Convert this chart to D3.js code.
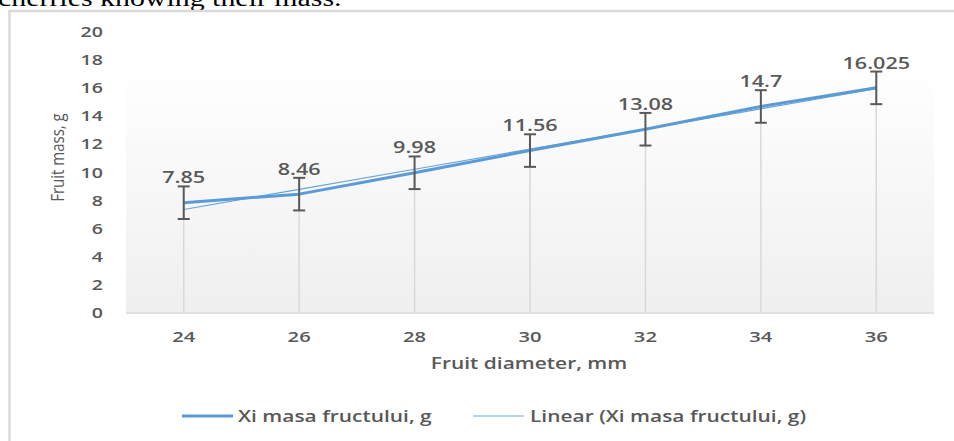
<!DOCTYPE html>
<html>
<head>
<meta charset="utf-8">
<script src="https://cdn.jsdelivr.net/npm/d3@7"></script>
<style>
  body { margin: 0; background: #fff; }
  svg { display: block; }
  text { font-family: "Open Sans", sans-serif; fill: #595959; }
</style>
</head>
<body>
<svg></svg>
<script>
// diametre (mm) si masa fructului (g)
let diameters = ['24', '26', '28', '30', '32', '34', '36'];
let masses = [7.85, 8.46, 9.98, 11.56, 13.08, 14.7, 16.025];
let errors = [1.16, 1.16, 1.16, 1.16, 1.16, 1.16, 1.16];
let yTicks = [0, 2, 4, 6, 8, 10, 12, 14, 16, 18, 20];

let width = 954;
let height = 441;

// textul din chenar apare intins pe orizontala
let stretch = 1.35;

let plot = { left: 126, right: 934, top: 32, bottom: 313 };

let svg = d3.select('svg')
    .attr('width', width)
    .attr('height', height);

// rand de text din document, taiat sus
svg.append('text')
    .attr('transform', 'translate(-2,6) scale(1.3,1)')
    .style('font-family', '"Liberation Serif", serif')
    .style('font-size', '23px')
    .style('fill', '#000')
    .text('cherries knowing their mass.');

// chenarul graficului
svg.append('rect')
    .attr('x', 9.5)
    .attr('y', 11)
    .attr('width', 960)
    .attr('height', 450)
    .attr('fill', 'none')
    .attr('stroke', '#d9d9d9')
    .attr('stroke-width', 2.5);

let x = d3.scalePoint()
    .domain(diameters)
    .range([plot.left, plot.right])
    .padding(0.5);

let y = d3.scaleLinear()
    .domain([0, 20])
    .range([plot.bottom, plot.top]);

// fundal cu gradient
let grad = svg.append('defs').append('linearGradient')
    .attr('id', 'bg')
    .attr('x1', 0).attr('y1', 0)
    .attr('x2', 0).attr('y2', 1);
grad.append('stop').attr('offset', '0%').attr('stop-color', '#ffffff');
grad.append('stop').attr('offset', '100%').attr('stop-color', '#efefef');

svg.append('rect')
    .attr('x', plot.left)
    .attr('y', 65)
    .attr('width', plot.right - plot.left)
    .attr('height', plot.bottom - 65)
    .attr('fill', 'url(#bg)');

// axa y (doar etichete)
svg.append('g')
    .selectAll('text')
    .data(yTicks)
    .enter()
    .append('text')
    .attr('transform', d => 'translate(103,' + (y(d) + 5) + ') scale(' + stretch + ',1)')
    .attr('text-anchor', 'end')
    .style('font-size', '14.5px')
    .style('font-weight', 600)
    .text(d => d);

// linii verticale de la punct la axa
svg.append('g')
    .selectAll('line')
    .data(masses)
    .enter()
    .append('line')
    .attr('x1', (d, i) => x(diameters[i]))
    .attr('x2', (d, i) => x(diameters[i]))
    .attr('y1', d => y(d))
    .attr('y2', y(0))
    .attr('stroke', '#d9d9d9')
    .attr('stroke-width', 1.5);

// axa x
svg.append('line')
    .attr('x1', plot.left)
    .attr('x2', plot.right)
    .attr('y1', y(0))
    .attr('y2', y(0))
    .attr('stroke', '#d9d9d9')
    .attr('stroke-width', 1.5);

svg.append('g')
    .selectAll('text')
    .data(diameters)
    .enter()
    .append('text')
    .attr('transform', d => 'translate(' + x(d) + ',342) scale(' + stretch + ',1)')
    .attr('text-anchor', 'middle')
    .style('font-size', '15px')
    .style('font-weight', 600)
    .text(d => d);

// titluri axe
svg.append('text')
    .attr('transform', 'translate(529,369) scale(' + stretch + ',1)')
    .attr('text-anchor', 'middle')
    .style('font-size', '15.5px')
    .style('font-weight', 600)
    .text('Fruit diameter, mm');

svg.append('text')
    .attr('transform', 'translate(64,157.5) rotate(-90) scale(1,1.15)')
    .attr('text-anchor', 'middle')
    .style('font-size', '15px')
    .text('Fruit mass, g');

// linia de tendinta (regresie liniara pe indexul categoriei, ca in Excel)
let idx = masses.map((d, i) => i + 1);
let mx = d3.mean(idx);
let my = d3.mean(masses);
let slope = d3.sum(idx, (v, i) => (v - mx) * (masses[i] - my)) / d3.sum(idx, v => (v - mx) * (v - mx));
let icpt = my - slope * mx;
let trend = idx.map(v => icpt + slope * v);

let line = d3.line()
    .x((d, i) => x(diameters[i]))
    .y(d => y(d));

svg.append('path')
    .datum(trend)
    .attr('d', line)
    .attr('fill', 'none')
    .attr('stroke', '#6aa5dc')
    .attr('stroke-width', 1.2);

svg.append('path')
    .datum(masses)
    .attr('d', line)
    .attr('fill', 'none')
    .attr('stroke', '#5b9bd5')
    .attr('stroke-width', 3)
    .attr('stroke-linejoin', 'round');

// bare de eroare
let eb = svg.append('g')
    .selectAll('g')
    .data(masses)
    .enter()
    .append('g')
    .attr('stroke', '#595959')
    .attr('stroke-width', 2);

eb.append('line')
    .attr('x1', (d, i) => x(diameters[i]))
    .attr('x2', (d, i) => x(diameters[i]))
    .attr('y1', (d, i) => y(d + errors[i]))
    .attr('y2', (d, i) => y(d - errors[i]));

eb.append('line')
    .attr('x1', (d, i) => x(diameters[i]) - 6)
    .attr('x2', (d, i) => x(diameters[i]) + 6)
    .attr('y1', (d, i) => y(d + errors[i]))
    .attr('y2', (d, i) => y(d + errors[i]));

eb.append('line')
    .attr('x1', (d, i) => x(diameters[i]) - 6)
    .attr('x2', (d, i) => x(diameters[i]) + 6)
    .attr('y1', (d, i) => y(d - errors[i]))
    .attr('y2', (d, i) => y(d - errors[i]));

// etichete de date
svg.append('g')
    .selectAll('text')
    .data(masses)
    .enter()
    .append('text')
    .attr('transform', (d, i) => 'translate(' + x(diameters[i]) + ',' + (y(d + errors[i]) - 3) + ') scale(' + stretch + ',1)')
    .attr('text-anchor', 'middle')
    .style('font-size', '16px')
    .style('font-weight', 600)
    .text(d => d);

// legenda
let legend = [
    { label: 'Xi masa fructului, g', x1: 182, x2: 233, tx: 238, w: 3, c: '#5b9bd5' },
    { label: 'Linear (Xi masa fructului, g)', x1: 473, x2: 524, tx: 530, w: 1.2, c: '#6aa5dc' }
];

let lg = svg.append('g')
    .selectAll('g')
    .data(legend)
    .enter()
    .append('g');

lg.append('line')
    .attr('x1', d => d.x1)
    .attr('x2', d => d.x2)
    .attr('y1', 416)
    .attr('y2', 416)
    .attr('stroke', d => d.c)
    .attr('stroke-width', d => d.w);

lg.append('text')
    .attr('transform', d => 'translate(' + d.tx + ',421.5) scale(' + stretch + ',1)')
    .style('font-size', '15.5px')
    .style('font-weight', 600)
    .text(d => d.label);
</script>
</body>
</html>
